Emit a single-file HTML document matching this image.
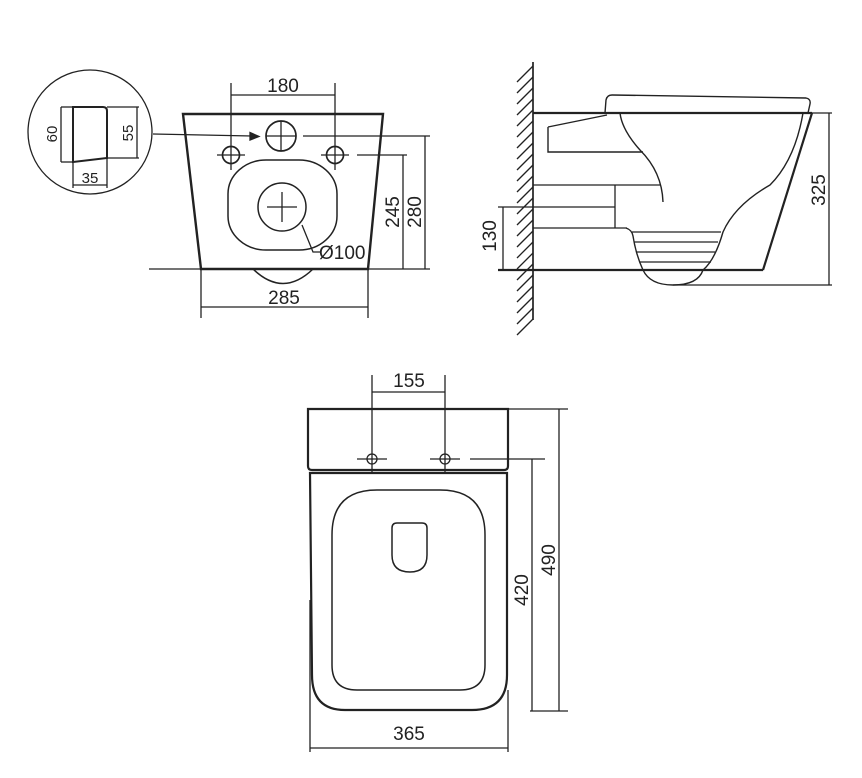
<!DOCTYPE html>
<html><head><meta charset="utf-8"><style>
html,body{margin:0;padding:0;background:#fff;}
svg{display:block;}
text{font-family:"Liberation Sans",sans-serif;font-size:19px;fill:#222;}
</style></head><body>
<svg width="862" height="778" viewBox="0 0 862 778" xmlns="http://www.w3.org/2000/svg">
<g fill="none" stroke="#222" stroke-width="1.3">
<!-- ===== Front view ===== -->
<circle cx="90" cy="132" r="62"/>
<path d="M73 107 L103 107 Q107 107 107 111 L107 158 L73 162 Z" stroke-width="2"/>
<line x1="61" y1="107" x2="73" y2="107"/><line x1="61" y1="162" x2="73" y2="162"/>
<line x1="61" y1="107" x2="61" y2="162"/>
<line x1="107" y1="107" x2="139" y2="107"/><line x1="107" y1="158" x2="139" y2="158"/>
<line x1="137" y1="107" x2="137" y2="158"/>
<line x1="73" y1="162" x2="73" y2="188"/><line x1="107" y1="158" x2="107" y2="188"/>
<line x1="73" y1="185" x2="107" y2="185"/>
<line x1="153" y1="134" x2="252" y2="136"/>
<path d="M259 136.5 L250 132.5 L250 140 Z" fill="#222"/>
<path d="M183 114 L383 114 L368 269 L201 269 Z" stroke-width="2.4"/>
<line x1="149" y1="269" x2="430" y2="269"/>
<circle cx="281" cy="136" r="15" stroke-width="1.7"/>
<line x1="266" y1="136" x2="296" y2="136"/><line x1="281" y1="121" x2="281" y2="151"/>
<circle cx="231" cy="155" r="8.5" stroke-width="1.7"/>
<circle cx="335" cy="155" r="8.5" stroke-width="1.7"/>
<line x1="217" y1="155" x2="245" y2="155"/><line x1="321" y1="155" x2="349" y2="155"/>
<line x1="231" y1="83" x2="231" y2="170"/><line x1="335" y1="83" x2="335" y2="170"/>
<line x1="231" y1="95" x2="335" y2="95"/>
<line x1="303" y1="136" x2="430" y2="136"/>
<line x1="357" y1="155" x2="407" y2="155"/>
<line x1="425" y1="136" x2="425" y2="269"/>
<line x1="403" y1="155" x2="403" y2="269"/>
<rect x="228" y="160" width="109" height="90" rx="38" ry="34" stroke-width="1.5"/>
<circle cx="282" cy="207" r="24" stroke-width="1.5"/>
<line x1="267" y1="207" x2="297" y2="207"/><line x1="282" y1="192" x2="282" y2="222"/>
<polyline points="302,225 313,252 320,252"/>
<path d="M253 269 Q283 298 313 269" stroke-width="1.5"/>
<line x1="201" y1="269" x2="201" y2="318"/><line x1="368" y1="269" x2="368" y2="318"/>
<line x1="201" y1="307" x2="368" y2="307"/>

<!-- ===== Side view ===== -->
<line x1="533" y1="62" x2="533" y2="320" stroke-width="1.7"/>
<g stroke-width="1.3">
<line x1="533" y1="66" x2="517" y2="82"/><line x1="533" y1="77" x2="517" y2="93"/><line x1="533" y1="88" x2="517" y2="104"/><line x1="533" y1="99" x2="517" y2="115"/><line x1="533" y1="110" x2="517" y2="126"/><line x1="533" y1="121" x2="517" y2="137"/><line x1="533" y1="132" x2="517" y2="148"/><line x1="533" y1="143" x2="517" y2="159"/><line x1="533" y1="154" x2="517" y2="170"/><line x1="533" y1="165" x2="517" y2="181"/><line x1="533" y1="176" x2="517" y2="192"/><line x1="533" y1="187" x2="517" y2="203"/><line x1="533" y1="198" x2="517" y2="214"/><line x1="533" y1="209" x2="517" y2="225"/><line x1="533" y1="220" x2="517" y2="236"/><line x1="533" y1="231" x2="517" y2="247"/><line x1="533" y1="242" x2="517" y2="258"/><line x1="533" y1="253" x2="517" y2="269"/><line x1="533" y1="264" x2="517" y2="280"/><line x1="533" y1="275" x2="517" y2="291"/><line x1="533" y1="286" x2="517" y2="302"/><line x1="533" y1="297" x2="517" y2="313"/><line x1="533" y1="308" x2="517" y2="324"/><line x1="533" y1="319" x2="517" y2="335"/>
</g>
<line x1="533" y1="113" x2="812" y2="113" stroke-width="2.2"/>
<path d="M605 113 L606 100 Q607 95 612 95 L806 98 Q811 99 810 104 L808 113" stroke-width="1.4"/>
<path d="M812 113 L763 270" stroke-width="2.2"/>
<line x1="498" y1="270" x2="763" y2="270" stroke-width="2.2"/>
<path d="M803 113 Q795 160 770 185 Q735 205 723 232 Q715 260 703 270" stroke-width="1.4"/>
<path d="M703 270 Q698 285 673 285 Q650 285 643 270 Q636 255 633 236 Q632 230 626 228" stroke-width="1.4"/>
<line x1="632" y1="232" x2="721" y2="232"/><line x1="634" y1="242" x2="718" y2="242"/><line x1="636" y1="252" x2="715" y2="252"/><line x1="640" y1="262" x2="711" y2="262"/>
<path d="M548 127 L607 115 M548 127 L548 152 L643 152" stroke-width="1.4"/>
<path d="M620 113 Q622 130 640 150 Q662 172 663 202" stroke-width="1.4"/>
<line x1="533" y1="185" x2="661" y2="185"/>
<line x1="498" y1="207" x2="615" y2="207"/>
<line x1="533" y1="228" x2="627" y2="228"/>
<line x1="615" y1="185" x2="615" y2="228"/>
<line x1="503" y1="207" x2="503" y2="270"/>
<line x1="812" y1="113" x2="832" y2="113"/>
<line x1="673" y1="285" x2="832" y2="285"/>
<line x1="829" y1="113" x2="829" y2="285"/>

<!-- ===== Top view ===== -->
<path d="M308 409 L508 409 L508 466 Q508 470 504 470 L312 470 Q308 470 308 466 Z" stroke-width="2.2"/>
<path d="M310 473 L507 473 L507 675 Q507 710 472 710 L345 710 Q312 710 312 675 Z" stroke-width="2.2"/>
<path d="M332 535 Q332 490 377 490 L440 490 Q485 490 485 535 L485 665 Q485 690 460 690 L357 690 Q332 690 332 665 Z" stroke-width="1.5"/>
<path d="M392 528 Q392 523 397 523 L422 523 Q427 523 427 528 L427 555 Q427 572 410 572 Q392 572 392 555 Z" stroke-width="1.5"/>
<circle cx="372" cy="459" r="5"/><circle cx="445" cy="459" r="5"/>
<line x1="357" y1="459" x2="387" y2="459"/><line x1="430" y1="459" x2="460" y2="459"/>
<line x1="372" y1="375" x2="372" y2="473"/><line x1="445" y1="375" x2="445" y2="473"/>
<line x1="372" y1="392" x2="445" y2="392"/>
<line x1="508" y1="409" x2="568" y2="409"/>
<line x1="470" y1="459" x2="545" y2="459"/>
<line x1="530" y1="711" x2="568" y2="711"/>
<line x1="559" y1="409" x2="559" y2="711"/>
<line x1="532" y1="459" x2="532" y2="711"/>
<line x1="508" y1="690" x2="508" y2="752"/><line x1="310" y1="600" x2="310" y2="752"/>
<line x1="310" y1="748" x2="508" y2="748"/>
</g>
<g>
<text x="283" y="92" text-anchor="middle">180</text>
<text x="284" y="304" text-anchor="middle">285</text>
<text x="319" y="259">Ø100</text>
<text x="90" y="183" text-anchor="middle" style="font-size:15px">35</text>
<text transform="translate(57,134) rotate(-90)" text-anchor="middle" style="font-size:15px">60</text>
<text transform="translate(133,133) rotate(-90)" text-anchor="middle" style="font-size:15px">55</text>
<text transform="translate(399,212) rotate(-90)" text-anchor="middle">245</text>
<text transform="translate(421,212) rotate(-90)" text-anchor="middle">280</text>
<text transform="translate(496,236) rotate(-90)" text-anchor="middle">130</text>
<text transform="translate(825,190) rotate(-90)" text-anchor="middle">325</text>
<text x="409" y="387" text-anchor="middle">155</text>
<text transform="translate(528,590) rotate(-90)" text-anchor="middle">420</text>
<text transform="translate(555,560) rotate(-90)" text-anchor="middle">490</text>
<text x="409" y="740" text-anchor="middle">365</text>
</g>
</svg>
</body></html>
